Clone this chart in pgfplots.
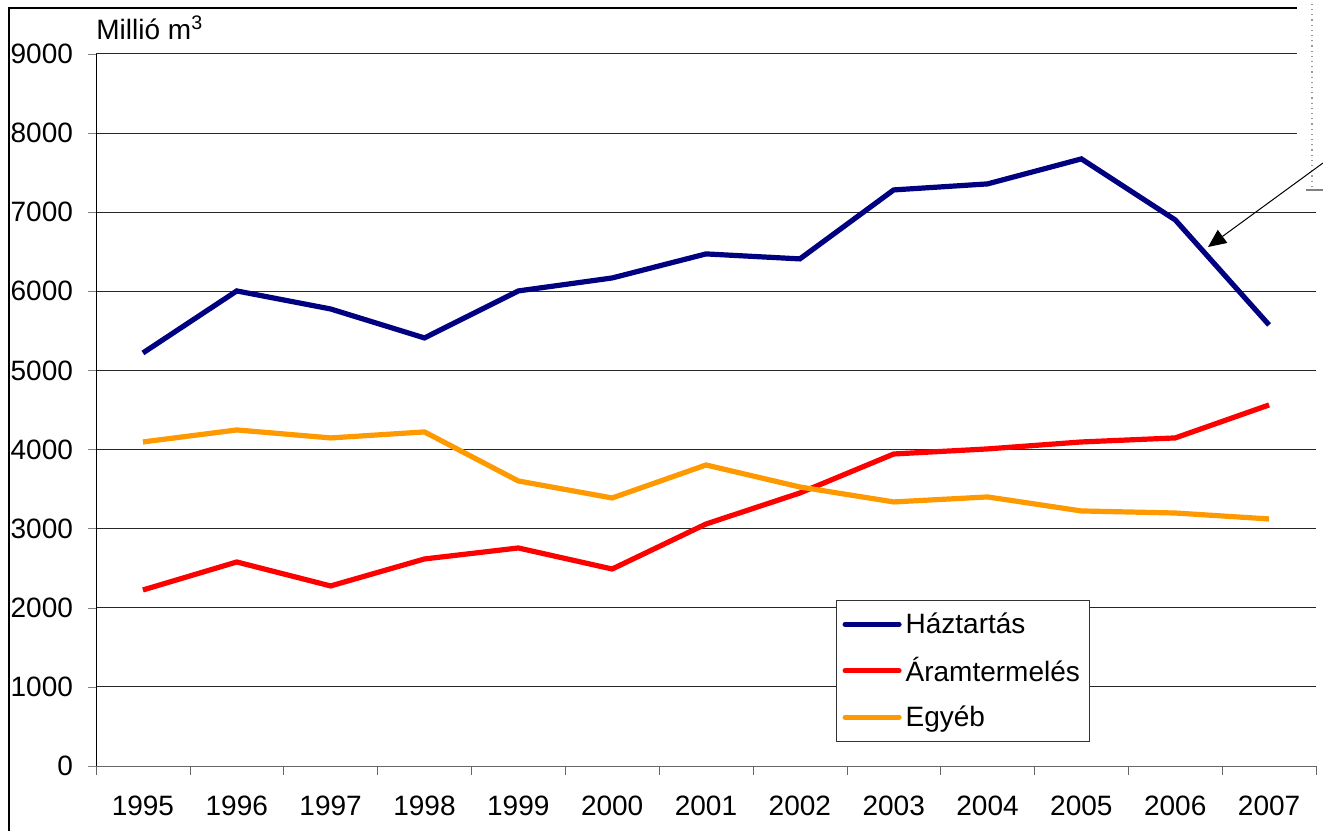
\documentclass[border=0pt]{standalone}
\usepackage{fontspec}
\setmainfont{Liberation Sans}
\usepackage{pgfplots}
\pgfplotsset{compat=1.18}
\usetikzlibrary{arrows.meta}
\definecolor{hnavy}{RGB}{0,0,128}
\definecolor{hred}{RGB}{255,0,0}
\definecolor{horange}{RGB}{255,153,0}
\begin{document}
\begin{tikzpicture}[x=1pt,y=1pt]
\useasboundingbox (0,0) rectangle (661.5,415.5);
\begin{axis}[
  at={(48pt,32.5pt)}, anchor=south west,
  scale only axis, width=610pt, height=356pt,
  xmin=-0.5, xmax=12.5, ymin=0, ymax=9000,
  axis x line=bottom, axis y line=left,
  axis line style={-}, x axis line style={draw=black!60},
  xtick={0,...,12},
  xticklabels={1995,1996,1997,1998,1999,2000,2001,2002,2003,2004,2005,2006,2007},
  major x tick style={draw=none},
  minor xtick={-0.5,0.5,...,12.5},
  minor x tick style={draw=black!60},
  ytick={0,1000,...,9000},
  tick align=outside,
  major tick length=4pt, minor tick length=4.5pt,
  ymajorgrids, grid style={black!85, line width=0.5pt},
  scaled y ticks=false,
  yticklabel style={/pgf/number format/1000 sep={}},
  /pgf/number format/assume math mode=true,
  tick label style={font=\fontsize{14}{16}\selectfont},
  xticklabel style={yshift=-7.5pt},
  yticklabel style={xshift=-4pt},
  legend style={at={(0.6066,0.2331)}, anchor=north west, draw=black!80, line width=0.5pt,
    font=\fontsize{14}{16}\selectfont, row sep=6.5pt, inner xsep=3pt, inner ysep=4pt},
  legend cell align=left,
  legend image code/.code={\draw[#1, line width=2.5pt, line cap=round] (0cm,0cm) -- (0.95cm,0cm);},
  clip=false,
]
\addplot[hnavy, line width=2.6pt] coordinates {
(0,5221) (1,6005) (2,5777) (3,5411) (4,6005) (5,6169) (6,6473) (7,6410) (8,7282) (9,7358) (10,7674) (11,6903) (12,5575)};
\addlegendentry{Háztartás}
\addplot[hred, line width=2.6pt] coordinates {
(0,2225) (1,2579) (2,2276) (3,2617) (4,2756) (5,2490) (6,3059) (7,3451) (8,3944) (9,4008) (10,4096) (11,4147) (12,4564)};
\addlegendentry{Áramtermelés}
\addplot[horange, line width=2.6pt] coordinates {
(0,4096) (1,4248) (2,4147) (3,4223) (4,3603) (5,3388) (6,3805) (7,3527) (8,3338) (9,3401) (10,3224) (11,3198) (12,3123)};
\addlegendentry{Egyéb}
\node[anchor=base west, inner sep=0pt, font=\fontsize{14}{16}\selectfont] at (rel axis cs:0,1) [yshift=7pt] {Millió m\textsuperscript{3}};
\end{axis}
\fill[white] (648.5,320.5) rectangle (661.5,415.5);
\draw[black!40, line width=0.6pt, dotted] (656,322) -- (656,415.5);
\draw[black!50, line width=0.6pt] (653,320.5) -- (661.5,320.5);
\draw[black, line width=1pt] (4.5,0) -- (4.5,411.5) -- (648.5,411.5);
\draw[black, line width=0.5pt, -{Triangle[length=9pt,width=8pt]}] (661.5,334) -- (604,292);
\end{tikzpicture}
\end{document}
